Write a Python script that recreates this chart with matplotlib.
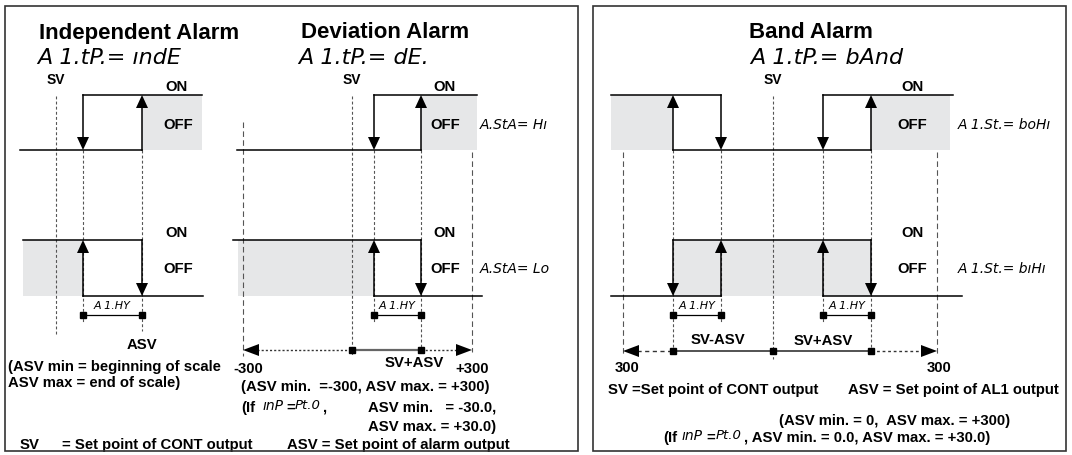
import matplotlib.pyplot as plt
from matplotlib.patches import Rectangle, Polygon

plt.rcParams['font.family'] = ['Liberation Sans', 'DejaVu Sans']
plt.rcParams['font.weight'] = 'bold'

# ---- content -------------------------------------------------------------
titles = ['Independent Alarm', 'Deviation Alarm', 'Band Alarm']
codes = ['A 1.tP.= ındE', 'A 1.tP.= dE.', 'A 1.tP.= bAnd']
state_codes = ['A.StA= Hı', 'A.StA= Lo', 'A 1.St.= boHı', 'A 1.St.= bıHı']
hys_label = 'A 1.HY'
dev_scale = ['-300', 'SV+ASV', '+300']
band_scale = ['300', 'SV-ASV', 'SV+ASV', '300']

# switching points (pixel columns) of the three diagrams
sv_x = [56, 352, 773]
ind_sw = [83, 142]
dev_sw = [374, 421]
band_sw = [673, 721, 823, 871]
dev_ends = [243, 472]
band_ends = [623, 937]

# relay levels (ON row, OFF row) of upper / lower diagram
upper = (96, 151)
lower = (241, 297)

LW = 1.1
GRAY = '#e6e7e8'
DASHC = '#555555'

fig = plt.figure(figsize=(10.72, 4.56), dpi=100)
ax = fig.add_axes([0, 0, 1, 1])
ax.set_xlim(0, 1072)
ax.set_ylim(456, 0)
ax.axis('off')


def vdash(x, y0, y1, long=False):
    d = (5, 3) if long else (2.6, 2)
    ax.plot([x, x], [y0, y1], color=DASHC, lw=0.8, dashes=d, zorder=1)


def arrow_v(x, y_from, y_to):
    s = 1 if y_to > y_from else -1
    hl, hw = 13, 6
    ax.plot([x, x], [y_from, y_to - s * hl], color='k', lw=LW, zorder=3)
    ax.add_patch(Polygon([(x - hw, y_to - s * hl), (x + hw, y_to - s * hl), (x, y_to)],
                         closed=True, color='k', lw=0, zorder=4))


def arrow_h(x_tip, y, direction):
    hl, hw = 16, 6
    ax.add_patch(Polygon([(x_tip - direction * hl, y - hw), (x_tip - direction * hl, y + hw), (x_tip, y)],
                         closed=True, color='k', lw=0, zorder=4))


def relay(levels, tops, bots, grays, ups, downs):
    y_on, y_off = levels
    for a, b in grays:
        ax.add_patch(Rectangle((a, y_on), b - a, y_off - y_on, color=GRAY, lw=0, zorder=0))
    for a, b in tops:
        ax.plot([a, b], [y_on, y_on], color='k', lw=LW, zorder=3)
    for a, b in bots:
        ax.plot([a, b], [y_off, y_off], color='k', lw=LW, zorder=3)
    for x in ups:
        arrow_v(x, y_off, y_on)
    for x in downs:
        arrow_v(x, y_on, y_off)


def hyst(a, b, y=316):
    ax.plot([a, b], [y, y], color='k', lw=0.9, zorder=3)
    ax.plot([a, b], [y, y], 's', color='k', ms=4, zorder=4)
    ax.text((a + b) / 2, y - 10, hys_label, ha='center', va='center', fontsize=8,
            family='DejaVu Sans', style='oblique', weight='normal')


def seg(text, x, y, size=16, ha='left'):
    ax.text(x, y, text, ha=ha, va='center', fontsize=size, family='DejaVu Sans',
            style='oblique', weight='normal')


def txt(text, x, y, size=10.7, ha='left'):
    ax.text(x, y, text, ha=ha, va='center', fontsize=size)


# frames
for l, t, r, b in [(5, 7, 578, 452), (593, 7, 1066, 452)]:
    ax.add_patch(Rectangle((l, t), r - l, b - t, fill=False, ec='#333333', lw=1.2, zorder=5))

# ---- Independent alarm ----------------------------------------------------
a, b = ind_sw
relay(upper, [(a, 202)], [(20, b)], [(b, 202)], [b], [a])
relay(lower, [(23, b)], [(a, 203)], [(23, a)], [a], [b])
vdash(sv_x[0], 97, 335)
vdash(a, 151, 323)
vdash(b, 151, 332)
hyst(a, b)
txt(titles[0], 139, 33, size=16, ha='center')
seg(codes[0], 37, 58)
txt('SV', sv_x[0], 80, size=10, ha='center')
txt('ON', 177, 87, ha='center')
txt('OFF', 178, 125, ha='center')
txt('ON', 177, 233, ha='center')
txt('OFF', 178, 269, ha='center')
txt('ASV', b, 345, ha='center')
txt('(ASV min = beginning of scale', 8, 367)
txt('ASV max = end of scale)', 8, 383)
txt('SV', 20, 445)
txt('= Set point of CONT output', 62, 445)
txt('ASV = Set point of alarm output', 287, 445)

# ---- Deviation alarm ------------------------------------------------------
a, b = dev_sw
relay(upper, [(a, 477)], [(237, b)], [(b, 477)], [b], [a])
relay(lower, [(233, b)], [(a, 482)], [(238, a)], [a], [b])
vdash(sv_x[1], 97, 357)
vdash(a, 151, 323)
vdash(b, 151, 351)
vdash(dev_ends[0], 123, 357, long=True)
vdash(dev_ends[1], 153, 353, long=True)
hyst(a, b)
ys = 351
ax.plot([dev_ends[0] + 14, sv_x[1]], [ys, ys], color='#333333', lw=1, dashes=(1.5, 1.5), zorder=2)
ax.plot([sv_x[1], b], [ys, ys], color='#666666', lw=1.6, zorder=2)
ax.plot([b, dev_ends[1] - 14], [ys, ys], color='#333333', lw=1, dashes=(1.5, 1.5), zorder=2)
ax.plot([sv_x[1], b], [ys, ys], 's', color='k', ms=5, zorder=4)
arrow_h(dev_ends[0], ys, -1)
arrow_h(dev_ends[1], ys, 1)
txt(titles[1], 385, 33, size=16, ha='center')
seg(codes[1], 298, 58)
txt('SV', sv_x[1], 80, size=10, ha='center')
txt('ON', 445, 87, ha='center')
txt('OFF', 445, 125, ha='center')
txt('ON', 445, 233, ha='center')
txt('OFF', 445, 269, ha='center')
seg(state_codes[0], 480, 125, size=10)
seg(state_codes[1], 480, 269, size=10)
txt(dev_scale[0], 233, 369)
txt(dev_scale[1], 414, 363, ha='center')
txt(dev_scale[2], 455, 369)
txt('(ASV min.  =-300, ASV max. = +300)', 241, 387)
txt('(If', 241, 408)
seg('ınP', 263, 406, size=10)
txt('=', 286, 408)
seg('Pt.0', 295, 406, size=9.5)
txt(',', 322, 408)
txt('ASV min.   = -30.0,', 368, 408)
txt('ASV max. = +30.0)', 368, 427)

# ---- Band alarm -----------------------------------------------------------
p1, p2, p3, p4 = band_sw
relay(upper, [(611, p2), (p3, 953)], [(p1, p4)], [(611, p1), (p4, 950)], [p1, p4], [p2, p3])
relay(lower, [(p1, p4)], [(611, p2), (p3, 962)], [(p1, p4)], [p2, p3], [p1, p4])
vdash(sv_x[2], 97, 360)
vdash(p1, 151, 352)
vdash(p2, 151, 323)
vdash(p3, 151, 323)
vdash(p4, 151, 352)
vdash(band_ends[0], 153, 357, long=True)
vdash(band_ends[1], 153, 355, long=True)
hyst(p1, p2)
hyst(p3, p4)
ys = 352
ax.plot([band_ends[0] + 14, p1], [ys, ys], color='#333333', lw=1, dashes=(3, 2.5), zorder=2)
ax.plot([p1, p4], [ys, ys], color='#444444', lw=1.3, zorder=2)
ax.plot([p4, band_ends[1] - 14], [ys, ys], color='#333333', lw=1, dashes=(2, 2), zorder=2)
ax.plot([p1, sv_x[2], p4], [ys, ys, ys], 's', color='k', ms=5, zorder=4)
arrow_h(band_ends[0], ys, -1)
arrow_h(band_ends[1], ys, 1)
txt(titles[2], 749, 33, size=16)
seg(codes[2], 750, 58)
txt('SV', sv_x[2], 80, size=10, ha='center')
txt('ON', 912, 87, ha='center')
txt('OFF', 912, 125, ha='center')
txt('ON', 912, 233, ha='center')
txt('OFF', 912, 269, ha='center')
seg(state_codes[2], 958, 125, size=10)
seg(state_codes[3], 958, 269, size=10)
txt(band_scale[0], 627, 368, ha='center')
txt(band_scale[1], 718, 340, ha='center')
txt(band_scale[2], 823, 341, ha='center')
txt(band_scale[3], 939, 368, ha='center')
txt('SV =Set point of CONT output', 608, 390)
txt('ASV = Set point of AL1 output', 848, 390)
txt('(ASV min. = 0,  ASV max. = +300)', 779, 421)
txt('(If', 663, 438)
seg('ınP', 682, 436, size=10)
txt('=', 706, 438)
seg('Pt.0', 716, 436, size=9.5)
txt(', ASV min. = 0.0, ASV max. = +30.0)', 744, 438)

fig.savefig('out.png', dpi=100)
